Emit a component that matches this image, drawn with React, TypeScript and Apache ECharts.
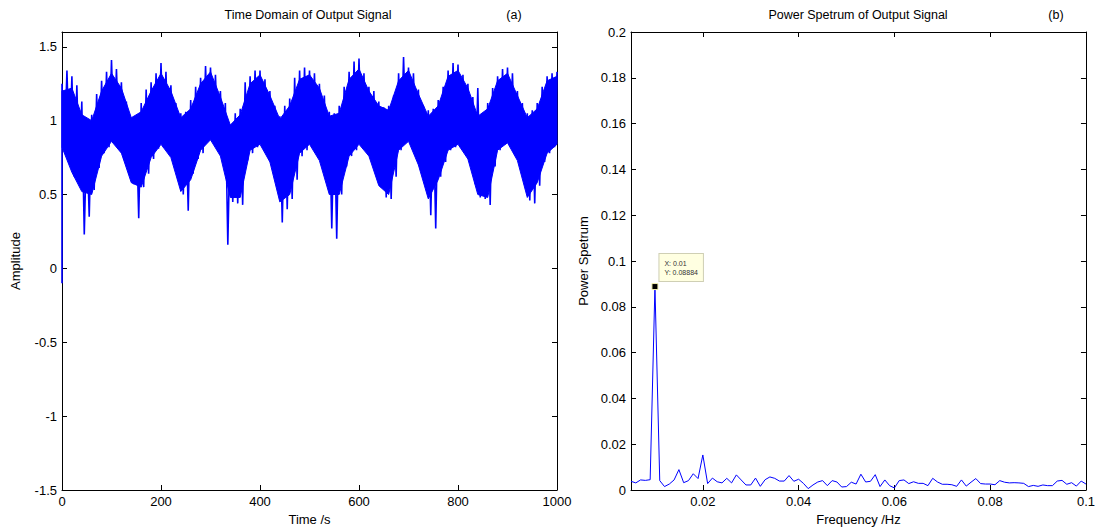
import React, { useEffect, useRef } from "react";
import * as echarts from "echarts";

// ---- (a) time-domain signal ----
const ENV_STEP = 10; // seconds between spike-tip samples
const startValue = -0.1; // first sample at t = 0
// tips of the upward spikes at t = 0, 10, ..., 1000 s
const upperEnv = [
  1.25, 1.34, 1.3, 1.24, 1.13, 0.92, 1.04, 1.18, 1.27, 1.33,
  1.41, 1.35, 1.26, 1.13, 1.02, 0.99, 1.12, 1.21, 1.26, 1.32,
  1.39, 1.33, 1.24, 1.12, 1.05, 1.06, 1.14, 1.23, 1.29, 1.37,
  1.36, 1.31, 1.2, 1.12, 0.97, 1.05, 1.08, 1.26, 1.3, 1.34,
  1.34, 1.28, 1.2, 1.1, 1.03, 1.1, 1.15, 1.29, 1.34, 1.36,
  1.34, 1.32, 1.25, 1.17, 1.06, 1.05, 1.1, 1.23, 1.33, 1.4,
  1.42, 1.32, 1.23, 1.2, 1.13, 1.09, 1.1, 1.17, 1.32, 1.43,
  1.36, 1.32, 1.21, 1.1, 1.07, 1.08, 1.14, 1.23, 1.34, 1.39,
  1.38, 1.31, 1.25, 1.16, 1.22, 1.05, 1.12, 1.22, 1.3, 1.35,
  1.36, 1.32, 1.2, 1.12, 1.05, 1.07, 1.12, 1.23, 1.3, 1.32,
  1.33,
];
// tips of the downward spikes at t = 5, 15, ..., 995 s
const lowerEnv = [
  0.8, 0.75, 0.62, 0.6, 0.23, 0.35, 0.53, 0.68, 0.78, 0.82,
  0.87, 0.86, 0.74, 0.64, 0.57, 0.34, 0.55, 0.64, 0.74, 0.81,
  0.82, 0.82, 0.73, 0.6, 0.5, 0.39, 0.64, 0.74, 0.78, 0.87,
  0.87, 0.86, 0.75, 0.16, 0.45, 0.44, 0.43, 0.73, 0.78, 0.82,
  0.82, 0.78, 0.69, 0.57, 0.31, 0.4, 0.47, 0.6, 0.76, 0.8,
  0.82, 0.8, 0.71, 0.64, 0.27, 0.2, 0.5, 0.69, 0.76, 0.8,
  0.83, 0.82, 0.74, 0.66, 0.55, 0.48, 0.47, 0.62, 0.8, 0.87,
  0.88, 0.85, 0.66, 0.62, 0.36, 0.27, 0.62, 0.72, 0.8, 0.82,
  0.82, 0.8, 0.72, 0.57, 0.48, 0.47, 0.43, 0.69, 0.8, 0.84,
  0.85, 0.8, 0.72, 0.6, 0.46, 0.44, 0.56, 0.72, 0.78, 0.82,
];
// solid core of the trace, at t = 0, 20, ..., 1000 s
const CORE_STEP = 20;
const coreTop = [
  1.2, 1.22, 1.04, 1.0, 1.2, 1.32, 1.22, 1.02, 1.06, 1.2,
  1.32, 1.2, 1.02, 1.08, 1.25, 1.33, 1.16, 0.97, 1.04, 1.25,
  1.31, 1.17, 1.01, 1.1, 1.28, 1.31, 1.22, 1.03, 1.05, 1.28,
  1.35, 1.2, 1.1, 1.07, 1.27, 1.34, 1.18, 1.03, 1.1, 1.3,
  1.34, 1.22, 1.03, 1.08, 1.27, 1.32, 1.17, 1.02, 1.08, 1.27,
  1.3,
];
const coreBottom = [
  0.82, 0.65, 0.52, 0.5, 0.76, 0.86, 0.78, 0.58, 0.55, 0.75,
  0.84, 0.75, 0.52, 0.6, 0.8, 0.87, 0.76, 0.48, 0.48, 0.8,
  0.84, 0.72, 0.45, 0.5, 0.78, 0.84, 0.73, 0.5, 0.5, 0.76,
  0.84, 0.76, 0.56, 0.5, 0.8, 0.86, 0.7, 0.47, 0.6, 0.8,
  0.84, 0.74, 0.5, 0.48, 0.8, 0.85, 0.73, 0.48, 0.58, 0.78,
  0.84,
];

// ---- (b) power spectrum ----
const FREQ_START = 0.005;
const FREQ_STEP = 0.001;
const spectrum = [
  0.0038, 0.0031, 0.0044, 0.0042, 0.0045, 0.08884, 0.0041, 0.0015, 0.0026, 0.0044,
  0.0089, 0.0032, 0.0041, 0.0071, 0.005, 0.0153, 0.0028, 0.0052, 0.0036, 0.0031,
  0.0051, 0.0031, 0.0066, 0.0044, 0.0022, 0.0022, 0.0052, 0.0016, 0.0045, 0.0057,
  0.0051, 0.0039, 0.0039, 0.0063, 0.0038, 0.0047, 0.0029, 0.0006, 0.0022, 0.0035,
  0.0041, 0.0019, 0.0041, 0.0035, 0.0013, 0.0015, 0.0034, 0.0026, 0.0069, 0.0035,
  0.0038, 0.0067, 0.0015, 0.0044, 0.0019, 0.0009, 0.0041, 0.0044, 0.0028, 0.0036,
  0.0029, 0.0029, 0.0019, 0.0051, 0.0035, 0.0025, 0.0025, 0.0023, 0.0016, 0.0044,
  0.0017, 0.0034, 0.005, 0.0028, 0.0026, 0.0026, 0.0023, 0.0041, 0.0034, 0.0031,
  0.0032, 0.0031, 0.0029, 0.0015, 0.002, 0.0016, 0.0022, 0.0019, 0.0019, 0.0039,
  0.0042, 0.0025, 0.0032, 0.0017, 0.0039, 0.0026,
];
const peakX = 0.01;
const peakY = 0.08884;
const freqTickValues = [0.02, 0.04, 0.06, 0.08, 0.1];

const FONT = "'Liberation Sans', Arial, Helvetica, sans-serif";
const BLUE = "#0000ff";

function buildOption() {
  // zigzag trace: upward tip, then downward tip half a step later
  const timeData: number[][] = [[0, startValue]];
  upperEnv.forEach((u, i) => {
    timeData.push([i * ENV_STEP, u]);
    if (i < lowerEnv.length) timeData.push([i * ENV_STEP + ENV_STEP / 2, lowerEnv[i]]);
  });
  const topPts = coreTop.map((v, i) => [i * CORE_STEP, v]);
  const bottomPts = coreBottom.map((v, i) => [i * CORE_STEP, v]);
  const specData = spectrum.map((v, i) => [+(FREQ_START + i * FREQ_STEP).toFixed(3), v]);

  const line = { show: true, onZero: false, lineStyle: { color: "#000", width: 1 } };
  const tick = { show: true, inside: true, length: 5, lineStyle: { color: "#000" } };
  const label = { color: "#000", fontSize: 13, fontFamily: FONT };
  const nameStyle = { color: "#000", fontSize: 13, fontFamily: FONT };

  return {
    animation: false,
    backgroundColor: "#fff",
    grid: [
      { left: 62, top: 32, width: 495, height: 458 },
      { left: 631, top: 32, width: 457, height: 458 },
    ],
    xAxis: [
      {
        type: "value", gridIndex: 0, min: 0, max: 1000, interval: 200,
        axisLine: line, axisTick: tick, splitLine: { show: false },
        axisLabel: { ...label, margin: 5, formatter: (v: number) => String(v) },
        name: "Time /s", nameLocation: "middle", nameGap: 22, nameTextStyle: nameStyle,
      },
      {
        type: "value", gridIndex: 0, position: "top", min: 0, max: 1000, interval: 200,
        axisLine: line, axisTick: tick, splitLine: { show: false }, axisLabel: { show: false },
      },
      {
        type: "value", gridIndex: 1, min: FREQ_START, max: 0.1,
        axisLine: line,
        axisTick: { ...tick, customValues: freqTickValues },
        splitLine: { show: false },
        axisLabel: { ...label, margin: 5, customValues: freqTickValues },
        name: "Frequency /Hz", nameLocation: "middle", nameGap: 22, nameTextStyle: nameStyle,
      },
      {
        type: "value", gridIndex: 1, position: "top", min: FREQ_START, max: 0.1,
        axisLine: line,
        axisTick: { ...tick, customValues: freqTickValues },
        splitLine: { show: false }, axisLabel: { show: false },
      },
    ],
    yAxis: [
      {
        type: "value", gridIndex: 0, min: -1.5, max: 1.6, interval: 0.5,
        axisLine: line, axisTick: tick, splitLine: { show: false },
        axisLabel: { ...label, margin: 5, showMaxLabel: false },
        name: "Amplitude", nameLocation: "middle", nameGap: 40, nameTextStyle: nameStyle,
      },
      {
        type: "value", gridIndex: 0, position: "right", min: -1.5, max: 1.6, interval: 0.5,
        axisLine: line, axisTick: tick, splitLine: { show: false }, axisLabel: { show: false },
      },
      {
        type: "value", gridIndex: 1, min: 0, max: 0.2, interval: 0.02,
        axisLine: line, axisTick: tick, splitLine: { show: false },
        axisLabel: { ...label, margin: 5 },
        name: "Power Spetrum", nameLocation: "middle", nameGap: 41, nameTextStyle: nameStyle,
      },
      {
        type: "value", gridIndex: 1, position: "right", min: 0, max: 0.2, interval: 0.02,
        axisLine: line, axisTick: tick, splitLine: { show: false }, axisLabel: { show: false },
      },
    ],
    series: [
      {
        // solid core of the dense trace
        type: "custom", xAxisIndex: 0, yAxisIndex: 0, data: [[0, 0]],
        renderItem: (_params: any, api: any) => {
          const pts: number[][] = [];
          topPts.forEach((p) => pts.push(api.coord(p)));
          for (let i = bottomPts.length - 1; i >= 0; i--) pts.push(api.coord(bottomPts[i]));
          return {
            type: "polygon",
            shape: { points: pts },
            style: { fill: BLUE, stroke: BLUE, lineWidth: 1 },
            silent: true,
          };
        },
        silent: true,
        z: 2,
      },
      {
        type: "line", xAxisIndex: 0, yAxisIndex: 0, data: timeData,
        showSymbol: false, symbol: "none",
        lineStyle: { color: BLUE, width: 1.6 },
        z: 3,
      },
      {
        type: "line", xAxisIndex: 2, yAxisIndex: 2, data: specData,
        showSymbol: false, symbol: "none",
        lineStyle: { color: BLUE, width: 1 },
        markPoint: {
          symbol: "rect",
          symbolSize: 6,
          itemStyle: { color: "#000", borderColor: "#f2efb0", borderWidth: 1 },
          label: {
            show: true,
            position: [8, -29],
            formatter: "X: 0.01\nY: 0.08884",
            fontSize: 7,
            lineHeight: 9,
            fontFamily: FONT,
            color: "#333",
            align: "left",
            verticalAlign: "top",
            backgroundColor: "#ffffe1",
            borderColor: "#cfcfb4",
            borderWidth: 1,
            padding: [5, 5, 4, 5],
          },
          data: [{ coord: [peakX, peakY], value: peakY }],
        },
      },
    ],
    graphic: [
      { type: "text", x: 308, y: 15, style: { text: "Time Domain of Output Signal", font: `12.5px ${FONT}`, fill: "#000", textAlign: "center", textVerticalAlign: "middle" } },
      { type: "text", x: 514, y: 15, style: { text: "(a)", font: `12.5px ${FONT}`, fill: "#000", textAlign: "center", textVerticalAlign: "middle" } },
      { type: "text", x: 858, y: 15, style: { text: "Power Spetrum of Output Signal", font: `12.5px ${FONT}`, fill: "#000", textAlign: "center", textVerticalAlign: "middle" } },
      { type: "text", x: 1056, y: 15, style: { text: "(b)", font: `12.5px ${FONT}`, fill: "#000", textAlign: "center", textVerticalAlign: "middle" } },
    ],
  };
}

export default function App() {
  const ref = useRef<HTMLDivElement>(null);
  useEffect(() => {
    if (!ref.current) return;
    const chart = echarts.init(ref.current, undefined, { renderer: "svg" });
    chart.setOption(buildOption() as any);
    return () => chart.dispose();
  }, []);
  return (
    <div
      ref={ref}
      style={{ position: "fixed", left: 0, top: 0, width: 1098, height: 531, background: "#fff" }}
    />
  );
}
